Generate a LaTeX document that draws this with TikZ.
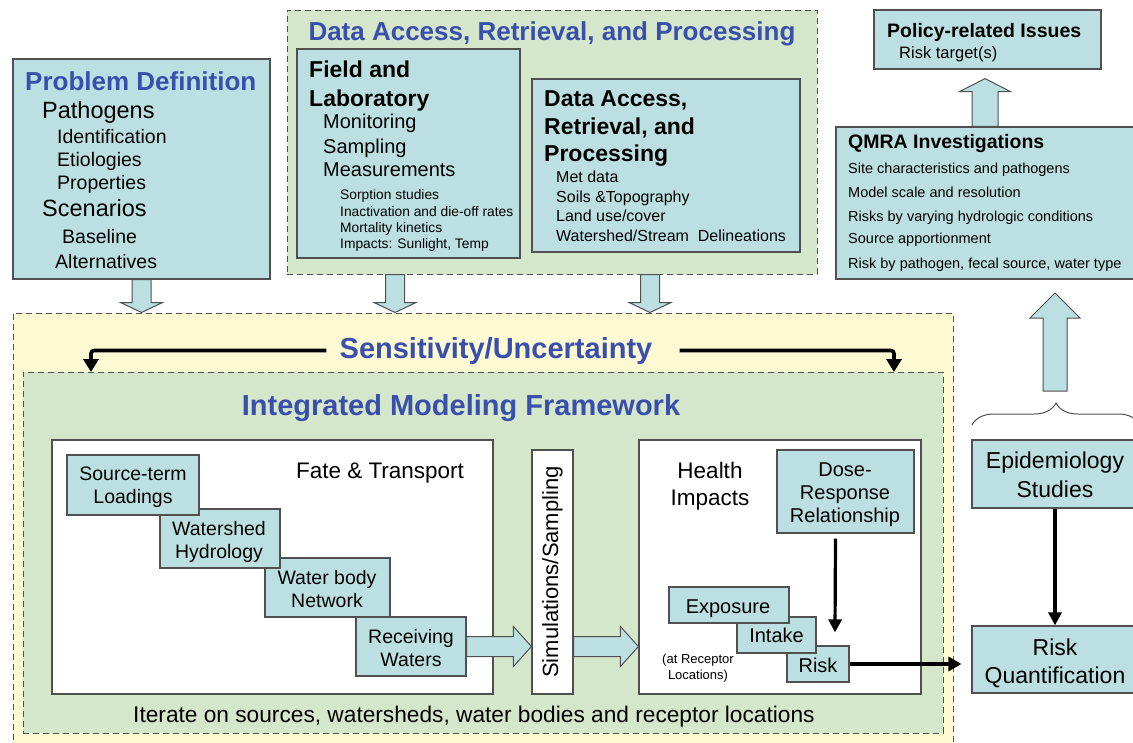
\documentclass[tikz,border=0pt]{standalone}
\usepackage{fontspec}
\setmainfont{Liberation Sans}
\usetikzlibrary{fit,calc,arrows.meta,decorations.pathreplacing}
\definecolor{boxfill}{RGB}{188,224,226}
\definecolor{grnfill}{RGB}{213,231,202}
\definecolor{ylwfill}{RGB}{253,249,211}
\definecolor{ttl}{RGB}{58,78,172}
\definecolor{edge}{RGB}{80,80,80}
\newcommand\fs[1]{\fontsize{#1}{\dimexpr#1pt*12/10\relax}\selectfont}
\newcommand\fsl[2]{\fontsize{#1}{#2}\selectfont}
\newcommand\BlkDown[5]{\draw[blk] let \p1=(#1),\p2=(#2) in (\x1-#3,\y1)--(\x1+#3,\y1)--(\x1+#3,\y2+#5)--(\x1+#4,\y2+#5)--(\x1,\y2)--(\x1-#4,\y2+#5)--(\x1-#3,\y2+#5)--cycle;}
\newcommand\BlkUp[5]{\draw[blk] let \p1=(#1),\p2=(#2) in (\x1-#3,\y1)--(\x1+#3,\y1)--(\x1+#3,\y2-#5)--(\x1+#4,\y2-#5)--(\x1,\y2)--(\x1-#4,\y2-#5)--(\x1-#3,\y2-#5)--cycle;}
\newcommand\BlkRight[5]{\draw[blk] let \p1=(#1),\p2=(#2) in (\x1,\y1-#3)--(\x2-#5,\y1-#3)--(\x2-#5,\y1-#4)--(\x2,\y1)--(\x2-#5,\y1+#4)--(\x2-#5,\y1+#3)--(\x1,\y1+#3)--cycle;}
\begin{document}
\begin{tikzpicture}[x=1pt,y=-1pt,
  box/.style={draw=edge, fill=boxfill, line width=1.2pt, inner sep=0pt},
  wbox/.style={draw=edge, fill=white, line width=1.2pt, inner sep=0pt},
  dbox/.style={draw=edge, dash pattern=on 6pt off 4pt, line width=1pt, inner sep=0pt},
  txt/.style={anchor=base west, inner sep=0pt},
  ctxt/.style={anchor=base, inner sep=0pt, align=center},
  blk/.style={draw=edge, fill=boxfill, line width=1pt, line join=miter},
  sarr/.style={line width=3.6pt, -{Triangle[width=15pt,length=13pt]}, rounded corners=3pt},
  barr/.style={line width=3.2pt, -{Triangle[width=13pt,length=13pt]}},
]
\fill[white] (0,0) rectangle (1133,742);
\useasboundingbox (0,0) rectangle (1133,742);

% ---------- top row ----------
\node[box, fit={(13,59) (270,279)}] (pd) {};
\node[txt, font=\bfseries\fs{26}, text=ttl] (pdt) at (25,90) {Problem Definition};
\node[txt, font=\fs{23.5}] (pd1) at (42,118) {Pathogens};
\node[txt, font=\fs{19.5}] (pd2) at (57,143) {Identification};
\node[txt, font=\fs{19.5}] (pd3) at (57,166) {Etiologies};
\node[txt, font=\fs{19.5}] (pd4) at (57,189) {Properties};
\node[txt, font=\fs{23.5}] (pd5) at (42,216) {Scenarios};
\node[txt, font=\fs{19.5}] (pd6) at (62,243) {Baseline};
\node[txt, font=\fs{19.5}] (pd7) at (55,268) {Alternatives};

\node[dbox, fill=grnfill, fit={(287,10) (817,274)}] (dg) {};
\node[ctxt, font=\bfseries\fs{26}, text=ttl] (dgt) at (552,40) {Data Access, Retrieval, and Processing};

\node[box, fit={(297,49) (520,258)}] (fl) {};
\node[txt, font=\bfseries\fs{23}] (fl1) at (309,77) {Field and};
\node[txt, font=\bfseries\fs{23}] (fl2) at (309,106) {Laboratory};
\node[txt, font=\fs{20}] (fl3) at (323,128) {Monitoring};
\node[txt, font=\fs{20}] (fl4) at (323,153) {Sampling};
\node[txt, font=\fs{20}] (fl5) at (323,176) {Measurements};
\node[txt, font=\fs{13.8}] (fl6) at (340,199) {Sorption studies};
\node[txt, font=\fs{13.8}] (fl7) at (340,216) {Inactivation and die-off rates};
\node[txt, font=\fs{13.8}] (fl8) at (340,232) {Mortality kinetics};
\node[txt, font=\fs{13.8}] (fl9) at (340,248) {Impacts: Sunlight, Temp};

\node[box, fit={(532,79) (800,252)}] (da) {};
\node[txt, font=\bfseries\fs{23}] (da1) at (544,106) {Data Access,};
\node[txt, font=\bfseries\fs{23}] (da2) at (544,134) {Retrieval, and};
\node[txt, font=\bfseries\fs{23}] (da3) at (544,161) {Processing};
\node[txt, font=\fs{16}] (da4) at (556,182) {Met data};
\node[txt, font=\fs{16}] (da5) at (556,202) {Soils \&Topography};
\node[txt, font=\fs{16}] (da6) at (556,221) {Land use/cover};
\node[txt, font=\fs{16}] (da7) at (556,241) {Watershed/Stream\ \ Delineations};

\node[box, fit={(874,10) (1101,69)}] (po) {};
\node[txt, font=\bfseries\fs{19.5}] (po1) at (887,37) {Policy-related Issues};
\node[txt, font=\fs{16.5}] (po2) at (899,58) {Risk target(s)};

\node[box, fit={(836,127) (1134,279)}] (qm) {};
\node[txt, font=\bfseries\fs{19.5}] (qm1) at (848,148) {QMRA Investigations};
\node[txt, font=\fs{14.5}] (qm2) at (848,173) {Site characteristics and pathogens};
\node[txt, font=\fs{14.5}] (qm3) at (848,197) {Model scale and resolution};
\node[txt, font=\fs{14.5}] (qm4) at (848,221) {Risks by varying hydrologic conditions};
\node[txt, font=\fs{14.5}] (qm5) at (848,243) {Source apportionment};
\node[txt, font=\fs{14.5}] (qm6) at (848,268) {Risk by pathogen, fecal source, water type};

% ---------- main frames ----------
\node[dbox, fill=ylwfill, fit={(13,313) (953,752)}] (yl) {};
\node[ctxt, font=\bfseries\fs{29}, text=ttl] (sens) at (496,358) {Sensitivity/Uncertainty};
\node[dbox, fill=grnfill, fit={(23,372) (943,733)}] (gm) {};
\node[ctxt, font=\bfseries\fs{29}, text=ttl] (imf) at (461,415) {Integrated Modeling Framework};
\coordinate (gl) at (91,372);
\coordinate (gr) at (894,372);
\draw[sarr] ($(sens.west)+(-13,0)$) -| (gl);
\draw[sarr] ($(sens.east)+(27,0)$) -| (gr);

% fate & transport (boxes drawn from last to first so earlier ones lie on top)
\node[wbox, fit={(52,440) (493,694)}] (ft) {};
\node[box, fit={(356,617) (466,676)}] (rw) {};
\node[box, fit={(265,558) (390,617)}] (wb) {};
\node[box, fit={(160,509) (280,568)}] (wh) {};
\node[box, fit={(67,455) (199,515)}] (st) {};
\node[ctxt, font=\fs{22.5}] (ftt) at (380,478) {Fate \& Transport};
\node[ctxt, font=\fsl{19.5}{23}] (rwt) at (411,666) {Receiving\\Waters};
\node[ctxt, font=\fsl{19.5}{23}] (wbt) at (327,607) {Water body\\Network};
\node[ctxt, font=\fsl{19.5}{23}] (wht) at (219,558) {Watershed\\Hydrology};
\node[ctxt, font=\fsl{19.5}{23}] (stt) at (133,503) {Source-term\\Loadings};

% simulations
\node[wbox, fit={(532,450) (573,694)}] (sim) {};
\node[rotate=90, inner sep=0pt, font=\fs{22}] (simt) at (sim.center) {Simulations/Sampling};

% health impacts
\node[wbox, fit={(639,440) (921,694)}] (hi) {};
\node[box, fit={(777,450) (914,533)}] (dr) {};
\node[box, fit={(787,646) (849,682)}] (rk) {};
\node[box, fit={(737,617) (816,653)}] (it) {};
\node[box, fit={(669,587) (789,623)}] (ex) {};
\node[ctxt, font=\fsl{22.5}{27}] (hit) at (710,505) {Health\\Impacts};
\node[ctxt, font=\fsl{20}{23}] (drt) at (845,522) {Dose-\\Response\\Relationship};
\node[ctxt, font=\fs{20}] (rkt) at (818,672) {Risk};
\node[ctxt, font=\fs{20}] (itt) at (776.5,642) {Intake};
\node[ctxt, font=\fs{20}] (ext) at (728,613) {Exposure};
\node[ctxt, font=\fsl{13}{16}] (rl) at (698,679) {(at Receptor\\Locations)};

\node[txt, font=\fs{22.7}] (itr) at (133,722) {Iterate on sources, watersheds, water bodies and receptor locations};

% block arrows
\BlkRight{rw.east}{sim.west}{10pt}{20pt}{18pt}
\BlkRight{sim.east |- rw.east}{hi.west}{10pt}{20pt}{18pt}
\BlkDown{pd.south}{yl.north}{9.5pt}{21pt}{10pt}
\BlkDown{$(fl.south |- dg.south)+(-13.5,0)$}{yl.north}{9.5pt}{21pt}{10pt}
\BlkDown{$(da.south |- dg.south)+(-16,0)$}{yl.north}{9.5pt}{21pt}{10pt}
\coordinate (pt) at ($(po.south)+(0,9)$);
\BlkUp{qm.north}{pt}{13pt}{25.5pt}{13pt}

% right column
\node[box, fit={(972,440) (1138,508)}] (ep) {};
\node[ctxt, font=\fsl{23}{29}] (ept) at (1055,497) {Epidemiology\\Studies};
\node[box, fit={(972,626) (1138,693)}] (rq) {};
\node[ctxt, font=\fsl{23}{28}] (rqt) at (1055,683) {Risk\\Quantification};
\coordinate (bl) at (972,425);
\coordinate (br) at (1140,425);
\draw[edge, line width=1pt, decorate, decoration={brace, amplitude=22pt}] (bl) -- (br);
\coordinate (bt) at (1055,391);
\coordinate (ut) at (1055,293);
\BlkUp{bt}{ut}{12pt}{25pt}{25pt}

% black arrows
\draw[barr] ($(dr.south)+(-10,5)$) -- ($(rk.north)+(17,-13)$);
\draw[barr] (ep.south) -- (rq.north);
\draw[line width=3.8pt, -{Triangle[width=14pt,length=13pt]}, shorten >=10pt] (rk.east) -- (rk.east -| rq.west);
\end{tikzpicture}
\end{document}
